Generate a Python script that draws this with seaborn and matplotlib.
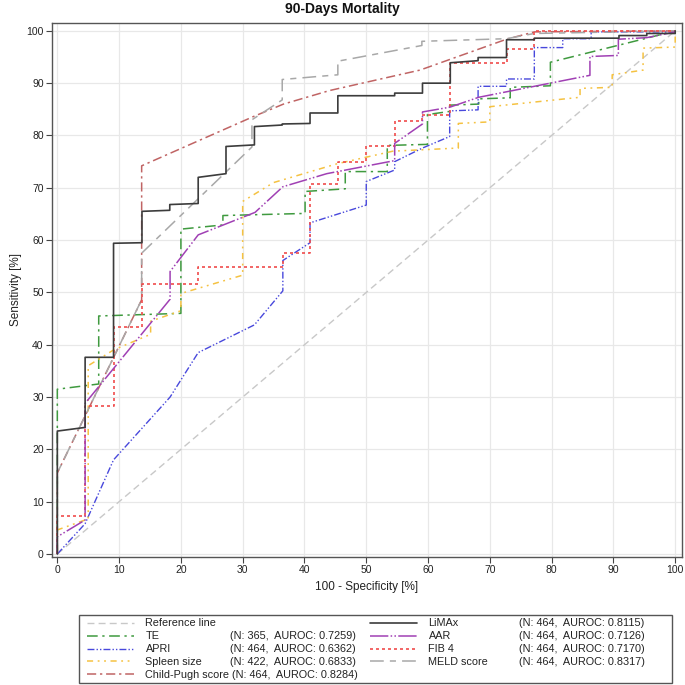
import matplotlib
matplotlib.use("Agg")
import matplotlib.pyplot as plt
from matplotlib.patches import Rectangle
import seaborn as sns

# ROC curves: x = 100 - specificity [%], y = sensitivity [%]
ref_x = [0, 100]
ref_y = [0, 100]

te_x = [0, 0, 6.7, 6.7, 20.0, 20.0, 26.8, 26.8, 40.1, 40.1, 46.6, 46.6, 53.4, 53.4,
        59.9, 59.9, 63.5, 63.5, 68.2, 68.2, 73.3, 73.3, 79.8, 79.8, 95.4, 100]
te_y = [0, 31.5, 32.5, 45.5, 46.0, 62.1, 62.9, 64.7, 65.1, 69.3, 69.8, 73.1, 73.1, 78.1,
        78.3, 84.0, 84.6, 85.8, 86.0, 87.0, 87.2, 89.2, 89.5, 94.0, 98.6, 100]

apri_x = [0, 4.5, 9.1, 18.25, 22.8, 31.9, 36.5, 36.5, 40.9, 40.9, 50.0, 50.0, 54.6, 54.6,
          59.1, 63.5, 63.5, 68.1, 68.1, 72.7, 72.7, 77.2, 77.2, 81.8, 81.8, 86.4, 86.4, 100, 100]
apri_y = [0, 5.8, 18.0, 30.0, 38.5, 43.8, 50.3, 56.1, 59.5, 63.3, 66.7, 71.2, 73.4, 75.0,
          77.6, 79.8, 84.7, 84.9, 89.4, 89.4, 90.8, 90.8, 96.8, 96.8, 98.5, 98.5, 99.8, 99.8, 100]

spleen_x = [0, 0, 4.5, 5.0, 5.0, 9.1, 15.1, 15.1, 20.0, 20.0, 30.0, 30.0, 35.0, 45.3, 54.3,
            64.9, 64.9, 70.0, 70.0, 84.6, 84.6, 89.8, 89.8, 94.8, 94.8, 100, 100]
spleen_y = [0, 4.6, 6.5, 6.6, 36.0, 39.0, 42.0, 44.5, 46.5, 49.8, 53.3, 67.4, 71.0, 74.6, 77.0,
            77.6, 82.3, 82.6, 85.5, 87.3, 89.0, 89.2, 91.6, 92.5, 96.7, 96.9, 100]

cp_x = [0, 0, 13.65, 13.65, 31.7, 36.6, 44.1, 58.7, 72.7, 77.2, 100]
cp_y = [0, 15.5, 48.6, 74.2, 83.6, 86.0, 88.6, 92.5, 98.4, 99.8, 100]

limax_x = [0, 0, 4.5, 4.5, 9.1, 9.1, 13.7, 13.7, 18.2, 18.2, 22.8, 22.8, 27.3, 27.3, 31.9, 31.9,
           36.4, 36.4, 40.9, 40.9, 45.4, 45.4, 54.6, 54.6, 59.1, 59.1, 63.6, 63.6, 68.1, 68.1,
           72.7, 72.7, 77.2, 77.2, 90.9, 90.9, 95.4, 95.4, 100, 100]
limax_y = [0, 23.5, 24.2, 37.6, 37.6, 59.4, 59.5, 65.5, 65.7, 66.8, 67.0, 72.0, 72.7, 77.9, 78.2, 81.7,
           82.0, 82.2, 82.3, 84.3, 84.3, 87.6, 87.6, 88.1, 88.1, 90.0, 90.0, 93.9, 94.3, 94.9,
           94.9, 98.3, 98.3, 98.6, 98.6, 99.1, 99.1, 99.5, 99.5, 100]

aar_x = [0, 0, 4.5, 4.5, 18.25, 18.25, 22.8, 32.0, 36.5, 43.6, 54.6, 54.6, 59.1, 59.1, 63.5,
         68.2, 86.2, 86.2, 90.8, 90.8, 95.4, 100, 100]
aar_y = [0, 3.3, 6.5, 28.8, 48.7, 54.0, 61.0, 65.3, 70.2, 72.7, 75.2, 78.5, 82.2, 84.5, 85.4,
         87.3, 91.5, 95.1, 95.3, 98.4, 98.7, 99.8, 100]

fib4_x = [0, 0, 4.5, 4.5, 9.1, 9.1, 13.7, 13.7, 22.8, 22.8, 36.5, 36.5, 40.9, 40.9, 45.4, 45.4,
          50.0, 50.0, 54.6, 54.6, 59.1, 59.1, 63.6, 63.6, 72.7, 72.7, 77.2, 77.2, 100]
fib4_y = [0, 7.3, 7.3, 28.2, 28.2, 43.3, 43.3, 51.6, 51.6, 54.8, 54.8, 57.6, 57.6, 70.7, 70.7, 75.0,
          75.0, 77.9, 77.9, 82.7, 82.7, 83.9, 83.9, 93.9, 93.9, 96.5, 96.5, 100, 100]

meld_x = [0, 0, 13.65, 13.65, 31.5, 31.5, 36.4, 36.4, 45.4, 45.4, 59.0, 59.0, 72.7, 77.2, 100]
meld_y = [0, 15.5, 48.6, 57.5, 77.8, 83.0, 86.8, 90.7, 91.6, 94.2, 97.2, 98.0, 98.5, 99.5, 100]

names = ["Reference line", "TE", "APRI", "Spleen size", "Child-Pugh score",
         "LiMAx", "AAR", "FIB 4", "MELD score"]
n_obs = [None, 365, 464, 422, 464, 464, 464, 464, 464]
aurocs = [None, 0.7259, 0.6362, 0.6833, 0.8284, 0.8115, 0.7126, 0.7170, 0.8317]

curves = {
    "Reference line": (ref_x, ref_y),
    "TE": (te_x, te_y),
    "APRI": (apri_x, apri_y),
    "Spleen size": (spleen_x, spleen_y),
    "Child-Pugh score": (cp_x, cp_y),
    "LiMAx": (limax_x, limax_y),
    "AAR": (aar_x, aar_y),
    "FIB 4": (fib4_x, fib4_y),
    "MELD score": (meld_x, meld_y),
}

# colour, dash pattern (None = solid), line width
styles = {
    "Reference line": ("#c8c8c8", (5, 3), 1.0),
    "TE": ("#3f9a3f", (7, 3, 1.5, 3), 1.1),
    "APRI": ("#4848dc", (5, 1.5, 1, 1.5, 1, 1.5), 1.0),
    "Spleen size": ("#f5c242", (4, 3, 1.2, 3, 1.2, 3), 1.1),
    "Child-Pugh score": ("#c06464", (6, 2.5, 1.5, 2.5), 1.1),
    "LiMAx": ("#3c3c3c", None, 1.2),
    "AAR": ("#a040b4", (12, 1.5, 1, 1.5, 1, 1.5), 1.1),
    "FIB 4": ("#f04c4c", (1.8, 1.8), 1.2),
    "MELD score": ("#a8a8a8", (9, 4, 4, 4), 1.1),
}

draw_order = ["Reference line", "TE", "APRI", "Spleen size", "Child-Pugh score",
              "MELD score", "FIB 4", "AAR", "LiMAx"]

sns.set_style("whitegrid")
plt.rcParams['font.family'] = ['Liberation Sans', 'DejaVu Sans']

W = 685
fig = plt.figure(figsize=(6.85, 6.85), dpi=100)
ax = fig.add_axes([52 / W, 1 - 557 / W, 630 / W, 534 / W])

handles = {}
for name in draw_order:
    xs, ys = curves[name]
    color, dash, lw = styles[name]
    sns.lineplot(x=xs, y=ys, ax=ax, sort=False, estimator=None,
                 color=color, lw=lw, legend=False)
    line = ax.lines[-1]
    if dash is not None:
        line.set_dashes(dash)
    handles[name] = line

ax.set_xlim(-0.86, 101.1)
ax.set_ylim(-0.57, 101.5)
ax.set_xticks(range(0, 101, 10))
ax.set_yticks(range(0, 101, 10))
ax.grid(True, color="#e8e8e8", lw=0.9)
for sp in ax.spines.values():
    sp.set_visible(True)
    sp.set_color("#555555")
    sp.set_linewidth(1.0)
ax.tick_params(bottom=True, left=True, length=4, width=0.8, color="#444444",
               labelsize=7.5, labelcolor="#222222", pad=2)
ax.set_xlabel("100 - Specificity [%]", fontsize=8.5, color="#222222", labelpad=4)
ax.set_ylabel("Sensitivity [%]", fontsize=8.5, color="#222222", labelpad=3)

fig.text(0.5, 1 - 9 / W, "90-Days Mortality", ha="center", va="center",
         fontsize=10, fontweight="bold", color="#111111")

# legend: two columns of entries, statistics added as separate text
leg_kw = dict(loc="upper left", frameon=False, borderpad=0, borderaxespad=0,
              fontsize=7.8, handlelength=4.3, handletextpad=1.1, labelspacing=0.27,
              bbox_transform=fig.transFigure)
leg1 = fig.legend([handles[n] for n in names[:5]], names[:5],
                  bbox_to_anchor=(87 / W, 1 - 618.5 / W), **leg_kw)
leg2 = fig.legend([handles[n] for n in names[5:]], names[5:],
                  bbox_to_anchor=(370 / W, 1 - 618.5 / W), **leg_kw)
for leg in (leg1, leg2):
    for t in leg.get_texts():
        t.set_color("#222222")

fig.patches.append(Rectangle((79 / W, 1 - 683 / W), (672 - 79) / W, (683 - 615) / W,
                             transform=fig.transFigure, fill=False,
                             edgecolor="#555555", lw=1.0))

fig.canvas.draw()
renderer = fig.canvas.get_renderer()
stat_cols = [(leg1, n_obs[:5], aurocs[:5], 230),
             (leg2, n_obs[5:], aurocs[5:], 519)]
for leg, ns, aus, col_x in stat_cols:
    for t, n, a in zip(leg.get_texts(), ns, aus):
        if n is None:
            continue
        bb = t.get_window_extent(renderer)
        x = max(col_x, bb.x1 + 3)
        y = (bb.y0 + bb.y1) / 2
        fig.text(x / W, y / W, f"(N: {n},  AUROC: {a:.4f})", ha="left", va="center",
                 fontsize=7.8, color="#222222")

fig.savefig("out.png", dpi=100)
